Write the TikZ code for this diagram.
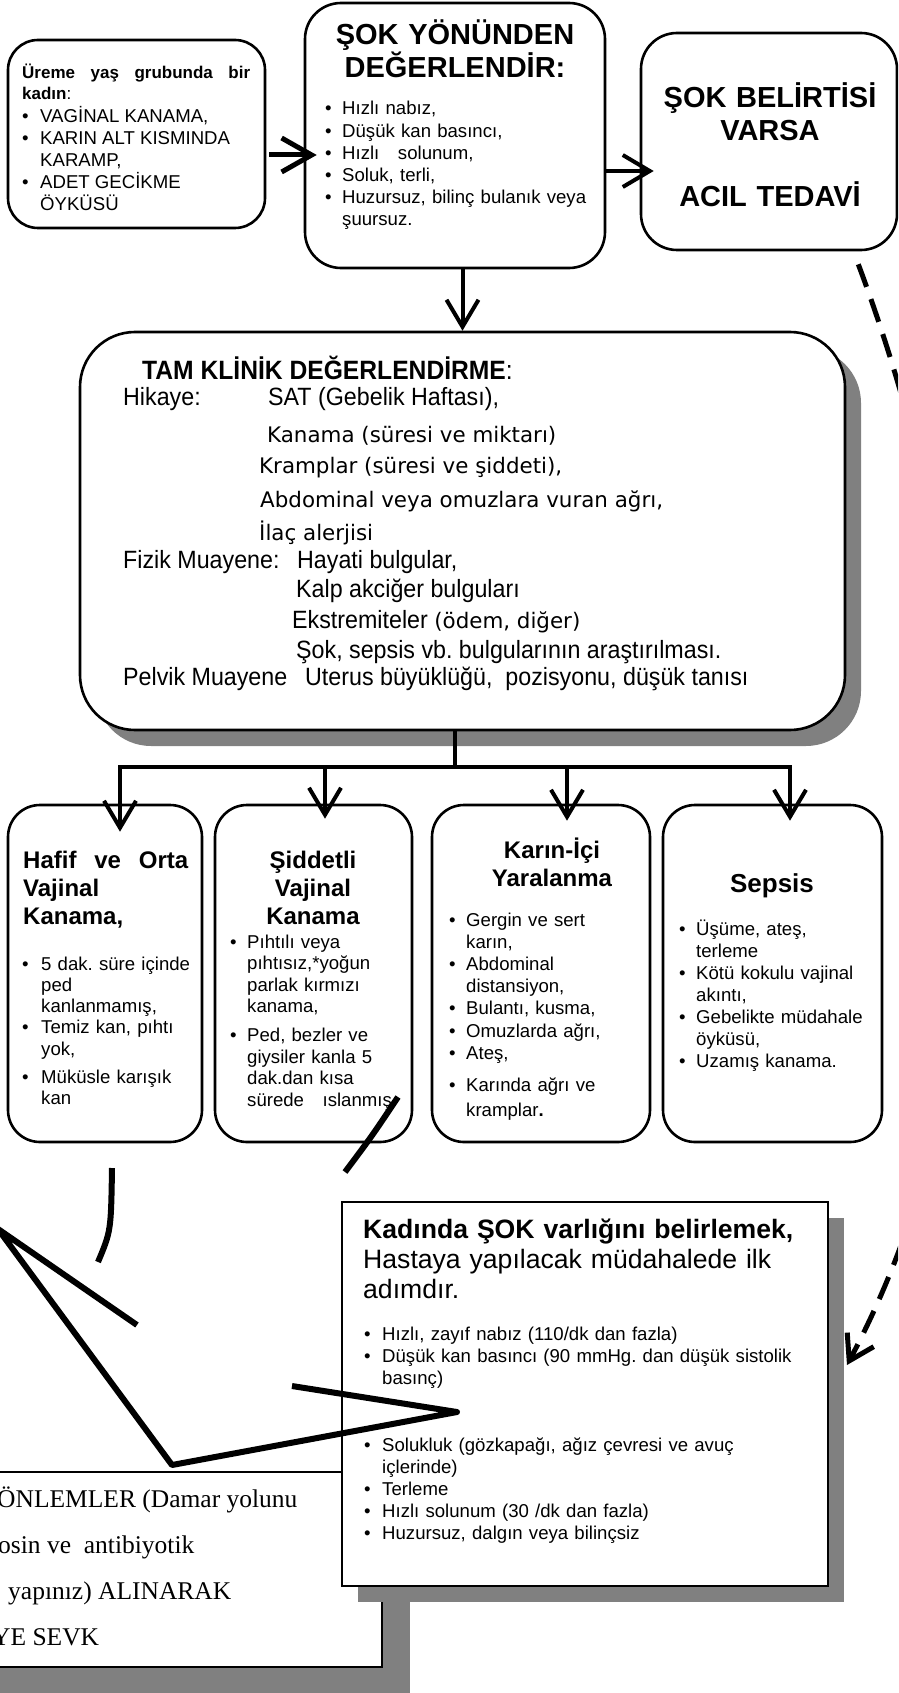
\documentclass[tikz,border=0pt]{standalone}
\usepackage{fontspec}
\setmainfont{Liberation Sans}
\newfontfamily\serifF{Liberation Serif}
\newfontfamily\comicF{DejaVu Sans}
\newfontfamily\narrowF{Liberation Sans}[FakeStretch=0.93]
\usetikzlibrary{arrows.meta,shadows,calc}
\frenchspacing

\newlength\bind
\newcommand\bitem[1]{\noindent\hangindent=\bind\hangafter=1\makebox[\bind][l]{\textbullet}#1\par}
\newcommand\bodyfont{\fontsize{18.6}{22.2}\selectfont}
\newcommand\cfont{\comicF\fontsize{21.4}{25}\selectfont}

\begin{document}
\begin{tikzpicture}[x=1pt,y=-1pt]
% Styles
\tikzstyle{rbox}=[draw,line width=2.6pt,inner sep=0pt,fill=white]
\tikzstyle{sbox}=[draw,line width=2pt,inner sep=0pt,fill=white]
\tikzstyle{txt}=[inner sep=0pt,anchor=base west,align=left]
\tikzstyle{itemtxt}=[txt,font=\bodyfont]
\tikzstyle{boxshadow}=[drop shadow={shadow xshift=16pt,shadow yshift=-16pt,fill=gray,opacity=1}]
\tikzstyle{arr}=[line width=4pt,-{Straight Barb[length=27pt,width=32pt]}]
\tikzstyle{bigarr}=[line width=5pt,-{Straight Barb[length=30pt,width=34pt]}]
\tikzstyle{dashline}=[line width=5pt,dash pattern=on 24pt off 13pt,-{Straight Barb[length=24pt,width=30pt]}]
\tikzstyle{blackstroke}=[line width=6pt,line join=round]

\useasboundingbox (0,0) rectangle (898,1693);
\clip (0,0) rectangle (898,1693);

% draw the top boxes
\node[rbox,rounded corners=30pt,minimum width=257pt,minimum height=188pt] (ureme) at (136.5,134) {};
\node[rbox,rounded corners=36pt,minimum width=300pt,minimum height=265pt] (degerlendir) at (455,135.5) {};
\node[rbox,rounded corners=36pt,minimum width=256pt,minimum height=217pt] (sokvar) at (769,141.5) {};

\node[txt,text width=228pt,align=justify] (uremetxt) at (22,79) {{\fontsize{17}{21}\selectfont\bfseries Üreme\hfill yaş\hfill grubunda\hfill bir\newline kadın\mdseries:\par}\bodyfont\setlength\bind{18pt}\bitem{VAGİNAL KANAMA,}\bitem{KARIN ALT KISMINDA\newline KARAMP,}\bitem{ADET GECİKME\newline ÖYKÜSÜ}};

\node[txt,anchor=base,align=center,text width=290pt,font=\fontsize{29}{30}\selectfont\bfseries] (degtit) at (455,45) {ŞOK YÖNÜNDEN\\DEĞERLENDİR:};
\node[itemtxt,text width=270pt] (degtxt) at (325,115) {\setlength\bind{17pt}\bitem{Hızlı nabız,}\bitem{Düşük kan basıncı,}\bitem{Hızlı\ \ \ solunum,}\bitem{Soluk, terli,}\bitem{Huzursuz, bilinç bulanık veya\newline şuursuz.}};

\node[txt,anchor=base,align=center,text width=250pt,font=\fontsize{29}{33}\selectfont\bfseries] (sokvartxt) at (770,108) {ŞOK BELİRTİSİ\\VARSA\\[33pt]ACIL TEDAVİ};

% the big box
\node[rbox,boxshadow,rounded corners=55pt,minimum width=765pt,minimum height=398pt] (tam) at (462.5,531) {};
\foreach \x/\y/\txt [count=\i] in {
142/379/{\fontsize{26.5}{30}\selectfont\bfseries TAM KLİNİK DEĞERLENDİRME\mdseries:},
123/405/{Hikaye:},
268/405/{SAT (Gebelik Haftası),},
267/442/{\cfont Kanama (süresi ve miktarı)},
259/473/{\cfont Kramplar (süresi ve şiddeti),},
260/507/{\cfont Abdominal veya omuzlara vuran ağrı,},
259/540/{\cfont İlaç alerjisi},
123/568/{Fizik Muayene:},
297/568/{Hayati bulgular,},
296/597/{Kalp akciğer bulguları},
292/628/{Ekstremiteler {\cfont(ödem, diğer)}},
296/658/{Şok, sepsis vb. bulgularının araştırılması.},
123/685/{Pelvik Muayene},
305/685/{Uterus büyüklüğü,\ \ pozisyonu, düşük tanısı}} {
\node[txt,font=\narrowF\fontsize{25}{30}\selectfont] (tam\i) at (\x,\y) {\txt};
}

% the four boxes under the big box
\foreach \nm/\x/\w in {hafif/105/194,siddet/313.5/197,karin/541/218,sepsis/772.5/219} {
\node[rbox,rounded corners=32pt,minimum width=\w pt,minimum height=337pt] (\nm) at (\x,973.5) {};
}

\node[txt,text width=165pt,align=justify,font=\fontsize{24}{28}\selectfont\bfseries] (hafiftit) at (23,868) {Hafif\hfill ve\hfill Orta\newline Vajinal\newline Kanama,};
\node[itemtxt,text width=175pt] (hafiftxt) at (22,970) {\fontsize{18.6}{21.3}\selectfont\setlength\bind{19pt}\bitem{5 dak. süre içinde\newline ped\newline kanlanmamış,}\bitem{Temiz kan, pıhtı\newline yok,}\vspace{6.5pt}\bitem{Müküsle karışık\newline kan}};

\node[txt,anchor=base,align=center,text width=180pt,font=\fontsize{24}{28}\selectfont\bfseries] (siddettit) at (313,868) {Şiddetli\\Vajinal\\Kanama};
\node[itemtxt,text width=175pt] (siddettxt) at (230,948) {\fontsize{18.6}{21.6}\selectfont\setlength\bind{17pt}\bitem{Pıhtılı veya\newline pıhtısız,*yoğun\newline parlak kırmızı\newline kanama,}\vspace{7pt}\bitem{Ped, bezler ve\newline giysiler kanla 5\newline dak.dan kısa\newline sürede\ \ \ ıslanmış}};

\node[txt,anchor=base,align=center,text width=190pt,font=\fontsize{24}{28}\selectfont\bfseries] (karintit) at (552,858) {Karın-İçi\\Yaralanma};
\node[itemtxt,text width=190pt] (karintxt) at (449,926) {\setlength\bind{17pt}\bitem{Gergin ve sert\newline karın,}\bitem{Abdominal\newline distansiyon,}\bitem{Bulantı, kusma,}\bitem{Omuzlarda ağrı,}\bitem{Ateş,}\vspace{7pt}{\fontsize{18.6}{25}\selectfont\bitem{Karında ağrı ve\newline kramplar\textbf{.}}}};

\node[txt,anchor=base,font=\fontsize{26}{30}\selectfont\bfseries] (sepsistit) at (772,892) {Sepsis};
\node[itemtxt,text width=190pt] (sepsistxt) at (679,935) {\fontsize{18.6}{22}\selectfont\setlength\bind{17pt}\bitem{Üşüme, ateş,\newline terleme}\bitem{Kötü kokulu vajinal\newline akıntı,}\bitem{Gebelikte müdahale\newline öyküsü,}\bitem{Uzamış kanama.}};

% arrows between the boxes
\draw[bigarr] ($(ureme.east)+(3,21)$) -- ($(degerlendir.west)+(13,19.5)$);
\draw[arr] ($(degerlendir.east)+(0,35.5)$) -- ($(sokvar.west)+(14,29.5)$);
\draw[arr] (degerlendir.south -| tam.north) -- (tam.north);

\coordinate (split) at (455,767);
\draw[line width=4pt] (split |- tam.south) -- (split);
\foreach \nm/\x/\d in {hafif/120/28,siddet/325/15,karin/567/17,sepsis/790/17} {
\coordinate (b\nm) at (\x,767);
\draw[arr] (b\nm) -- ($(b\nm |- \nm.north)+(0,\d)$);
}
\draw[line width=4pt,line cap=rect] (bhafif) -- (bsepsis);

% the boxes at the bottom
\node[sbox,line width=1.5pt,minimum width=450pt,minimum height=195pt,drop shadow={shadow xshift=28pt,shadow yshift=-28pt,fill=gray,opacity=1}] (onlem) at (157,1569.5) {};
\foreach \x/\y/\txt [count=\i] in {-3/1507/{ÖNLEMLER (Damar yolunu},-2/1553/{osin ve\ \ antibiyotik},8/1599/{yapınız) ALINARAK},-8/1645/{YE SEVK}} {
\node[txt,font=\serifF\fontsize{25.5}{30}\selectfont] (onlem\i) at (\x,\y) {\txt};
}

\node[sbox,boxshadow,minimum width=486pt,minimum height=384pt] (kadin) at (585,1394) {};
\node[txt,text width=450pt,font=\fontsize{26.6}{30}\selectfont] (kadintit) at (363,1238) {\textbf{Kadında ŞOK varlığını belirlemek,}\newline Hastaya yapılacak müdahalede ilk\newline adımdır.};
\node[itemtxt,text width=450pt] (kadintxt) at (364,1340) {\fontsize{18.6}{22}\selectfont\setlength\bind{18pt}\bitem{Hızlı, zayıf nabız (110/dk dan fazla)}\bitem{Düşük kan basıncı (90 mmHg. dan düşük sistolik\newline basınç)}\vspace{45pt}\bitem{Solukluk (gözkapağı, ağız çevresi ve avuç\newline içlerinde)}\bitem{Terleme}\bitem{Hızlı solunum (30 /dk dan fazla)}\bitem{Huzursuz, dalgın veya bilinçsiz}};

% the thick black strokes
\draw[blackstroke] (398,1097) .. controls (372,1136) .. (345,1172);
\draw[blackstroke] (112,1168) .. controls (111,1231) .. (98,1262);
\draw[blackstroke] (137,1325) -- (-2,1229) -- (172,1465) -- (457,1412) -- (292,1386);

% dashed line from the shock box
\coordinate (sokout) at ($(sokvar.south east)+(-40,13)$);
\coordinate (sokin) at ($(kadin.east)+(18,-29)$);
\draw[dashline] (sokout) .. controls (980,590) and (1030,1020) .. (sokin);

\end{tikzpicture}
\end{document}
